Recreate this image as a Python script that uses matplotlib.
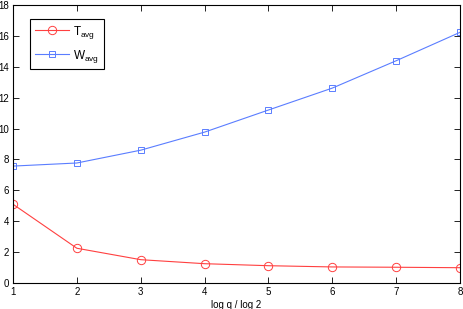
import matplotlib
matplotlib.use("Agg")
import matplotlib.pyplot as plt

plt.rcParams['font.family'] = ['Liberation Sans', 'DejaVu Sans']
plt.rcParams['font.size'] = 7
plt.rcParams['mathtext.fontset'] = 'custom'
plt.rcParams['mathtext.rm'] = 'Liberation Sans'

x = [1, 2, 3, 4, 5, 6, 7, 8]
t_avg = [5.1, 2.25, 1.51, 1.25, 1.12, 1.04, 1.02, 0.99]
w_avg = [7.57, 7.77, 8.6, 9.77, 11.2, 12.62, 14.39, 16.23]

fig = plt.figure(figsize=(4.63, 3.09), dpi=100)
ax = fig.add_axes([13/463, 26/309, 447/463, 278/309])

ax.plot(x, t_avg, color="#ff4040", linewidth=0.8, marker="o", markersize=6,
        markerfacecolor="none", markeredgewidth=0.7, label="T$_{\\rm avg}$")
ax.plot(x, w_avg, color="#5a7dff", linewidth=0.8, marker="s", markersize=5,
        markerfacecolor="none", markeredgewidth=0.7, label="W$_{\\rm avg}$")

ax.set_xlim(1, 8)
ax.set_ylim(0, 18)
ax.set_xticks(x)
ax.set_yticks(range(0, 19, 2))
ax.tick_params(direction="in", top=True, right=True, length=4, width=0.6, pad=3)
for s in ax.spines.values():
    s.set_linewidth(0.8)
ax.set_xlabel("log q / log 2", labelpad=2)

leg = ax.legend(loc="upper left", bbox_to_anchor=(0.038, 0.95), fancybox=False,
                edgecolor="black", framealpha=1, handlelength=2.9, handletextpad=0.35,
                borderpad=0.4, borderaxespad=0, labelspacing=0.6, fontsize=8.5)
leg.get_frame().set_linewidth(0.8)

fig.savefig("out.png", dpi=100)
